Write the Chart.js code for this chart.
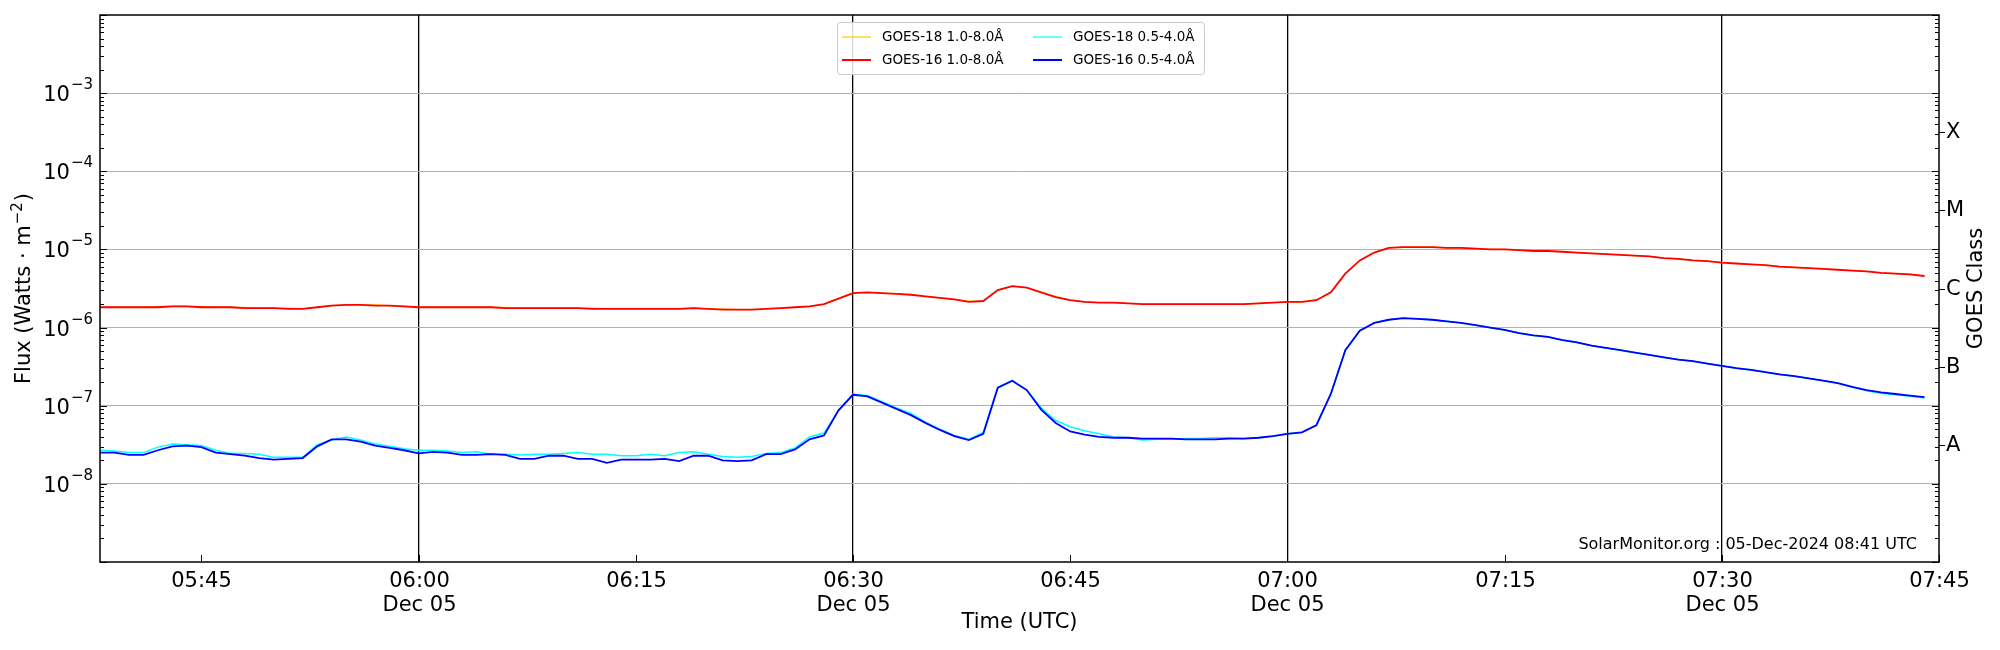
<!DOCTYPE html>
<html><head><meta charset="utf-8">
<script src="https://cdn.jsdelivr.net/npm/chart.js@4/dist/chart.umd.min.js"></script>
<style>html,body{margin:0;padding:0;background:#fff}</style>
</head><body>
<canvas id="c" width="2000" height="650"></canvas>
<script>
// Time axis: one sample per minute from 05:38 to 07:44 UTC
const startTime = "05:38";
// log10 flux values (W/m^2), one per minute
const g16LongLog = [-5.74,-5.74,-5.74,-5.74,-5.74,-5.73,-5.73,-5.74,-5.74,-5.74,-5.75,-5.75,-5.75,-5.76,-5.76,-5.74,-5.72,-5.71,-5.71,-5.72,-5.72,-5.73,
-5.74,-5.74,-5.74,-5.74,-5.74,-5.74,-5.75,-5.75,-5.75,-5.75,-5.75,-5.75,-5.76,-5.76,-5.76,-5.76,-5.76,-5.76,-5.76,-5.75,-5.76,-5.77,-5.77,-5.77,-5.76,-5.75,-5.74,-5.73,-5.70,-5.63,
-5.56,-5.55,-5.56,-5.57,-5.58,-5.60,-5.62,-5.64,-5.67,-5.66,-5.52,-5.47,-5.49,-5.55,-5.61,-5.65,-5.67,-5.68,-5.68,-5.69,-5.70,-5.70,-5.70,-5.70,-5.70,-5.70,-5.70,-5.70,-5.69,-5.68,
-5.67,-5.67,-5.65,-5.55,-5.31,-5.14,-5.04,-4.98,-4.97,-4.97,-4.97,-4.98,-4.98,-4.99,-5.00,-5.00,-5.01,-5.02,-5.02,-5.03,-5.04,-5.05,-5.06,-5.07,-5.08,-5.09,-5.11,-5.12,-5.14,-5.15,
-5.17,-5.18,-5.19,-5.20,-5.22,-5.23,-5.24,-5.25,-5.26,-5.27,-5.28,-5.30,-5.31,-5.32,-5.34];
const g18LongLog = [-5.74,-5.74,-5.74,-5.74,-5.73,-5.73,-5.73,-5.73,-5.74,-5.74,-5.74,-5.75,-5.75,-5.75,-5.76,-5.74,-5.72,-5.71,-5.71,-5.71,-5.72,-5.73,
-5.74,-5.74,-5.74,-5.74,-5.74,-5.74,-5.74,-5.75,-5.75,-5.75,-5.75,-5.75,-5.75,-5.76,-5.76,-5.76,-5.76,-5.76,-5.76,-5.75,-5.76,-5.76,-5.77,-5.77,-5.76,-5.75,-5.74,-5.73,-5.70,-5.63,
-5.56,-5.55,-5.56,-5.57,-5.58,-5.60,-5.62,-5.64,-5.66,-5.66,-5.52,-5.47,-5.49,-5.55,-5.60,-5.65,-5.67,-5.68,-5.68,-5.69,-5.70,-5.70,-5.70,-5.70,-5.70,-5.70,-5.70,-5.70,-5.69,-5.68,
-5.67,-5.67,-5.65,-5.55,-5.31,-5.14,-5.04,-4.98,-4.97,-4.97,-4.97,-4.98,-4.98,-4.99,-5.00,-5.00,-5.01,-5.02,-5.02,-5.03,-5.04,-5.05,-5.06,-5.07,-5.08,-5.09,-5.11,-5.12,-5.14,-5.15,
-5.17,-5.18,-5.19,-5.20,-5.22,-5.23,-5.24,-5.25,-5.26,-5.27,-5.28,-5.30,-5.31,-5.32,-5.34];
const g16ShortLog = [-7.60,-7.60,-7.63,-7.63,-7.57,-7.52,-7.51,-7.53,-7.60,-7.62,-7.64,-7.67,-7.69,-7.68,-7.67,-7.52,-7.43,-7.43,-7.46,-7.51,-7.54,-7.57,
-7.61,-7.59,-7.60,-7.63,-7.63,-7.62,-7.63,-7.68,-7.68,-7.64,-7.64,-7.68,-7.68,-7.73,-7.69,-7.69,-7.69,-7.68,-7.71,-7.64,-7.64,-7.70,-7.71,-7.70,-7.62,-7.62,-7.56,-7.43,-7.38,-7.06,
-6.86,-6.88,-6.96,-7.04,-7.12,-7.22,-7.31,-7.39,-7.44,-7.36,-6.77,-6.68,-6.80,-7.05,-7.22,-7.33,-7.37,-7.40,-7.41,-7.41,-7.42,-7.42,-7.42,-7.43,-7.43,-7.43,-7.42,-7.42,-7.41,-7.39,
-7.36,-7.34,-7.25,-6.85,-6.29,-6.04,-5.94,-5.90,-5.88,-5.89,-5.90,-5.92,-5.94,-5.97,-6.00,-6.03,-6.07,-6.10,-6.12,-6.16,-6.19,-6.23,-6.26,-6.29,-6.32,-6.35,-6.38,-6.41,-6.43,-6.46,
-6.49,-6.52,-6.54,-6.57,-6.60,-6.62,-6.65,-6.68,-6.71,-6.76,-6.80,-6.83,-6.85,-6.87,-6.89];
const g18ShortLog = [-7.57,-7.58,-7.60,-7.60,-7.53,-7.49,-7.50,-7.51,-7.57,-7.61,-7.61,-7.62,-7.66,-7.66,-7.66,-7.50,-7.44,-7.40,-7.44,-7.49,-7.52,-7.55,
-7.57,-7.57,-7.58,-7.60,-7.59,-7.62,-7.62,-7.63,-7.62,-7.62,-7.61,-7.60,-7.62,-7.62,-7.64,-7.64,-7.62,-7.64,-7.60,-7.59,-7.62,-7.65,-7.66,-7.65,-7.61,-7.60,-7.54,-7.40,-7.35,-7.06,
-6.85,-6.87,-6.95,-7.03,-7.10,-7.21,-7.30,-7.38,-7.43,-7.34,-6.77,-6.68,-6.80,-7.03,-7.19,-7.27,-7.32,-7.36,-7.40,-7.41,-7.44,-7.43,-7.43,-7.42,-7.42,-7.41,-7.41,-7.42,-7.41,-7.39,
-7.36,-7.34,-7.25,-6.85,-6.29,-6.04,-5.94,-5.90,-5.88,-5.89,-5.90,-5.92,-5.94,-5.97,-6.00,-6.03,-6.07,-6.10,-6.12,-6.16,-6.19,-6.23,-6.26,-6.29,-6.32,-6.35,-6.38,-6.41,-6.43,-6.46,
-6.49,-6.52,-6.54,-6.57,-6.60,-6.62,-6.65,-6.68,-6.71,-6.76,-6.81,-6.84,-6.86,-6.88,-6.90];
const xTickLabels = ["05:45","06:00","06:15","06:30","06:45","07:00","07:15","07:30","07:45"];
const xTickDates  = ["","Dec 05","","Dec 05","","Dec 05","","Dec 05",""];
const yDecades = [-8,-7,-6,-5,-4,-3];
const classLabels = ["A","B","C","M","X"];
const classLog = [-7.5,-6.5,-5.5,-4.5,-3.5];
const legendNames = ["GOES-18 1.0-8.0Å","GOES-16 1.0-8.0Å","GOES-18 0.5-4.0Å","GOES-16 0.5-4.0Å"];
const xMinLabel = "05:38", xMaxLabel = "07:45";

const toMin = s => { const [h,m] = s.split(":").map(Number); return h*60+m; };
const t0 = toMin(startTime);
const pts = arr => arr.map((v,i) => ({x: t0+i, y: Math.pow(10, v)}));

const FONT = "'DejaVu Sans'";
const FS = 21;
const decor = {
  id:'decor',
  afterDraw(chart){
    const ctx = chart.ctx, a = chart.chartArea, xs = chart.scales.x, ys = chart.scales.y;
    ctx.save();
    ctx.strokeStyle='#000'; ctx.lineWidth=1.5;
    ctx.strokeRect(a.left, a.top, a.right-a.left, a.bottom-a.top);
    ctx.lineWidth=1;
    for(let d=-9; d<=-2; d++){
      for(let k=1;k<=9;k++){
        const v = k*Math.pow(10,d); if(v<1e-9*0.999||v>1e-2*1.001) continue;
        const py = Math.round(ys.getPixelForValue(v))+0.5; const len = k===1?7:4;
        ctx.beginPath(); ctx.moveTo(a.left,py); ctx.lineTo(a.left+len,py);
        ctx.moveTo(a.right,py); ctx.lineTo(a.right-len,py); ctx.stroke();
      }
    }
    ctx.fillStyle='#000'; ctx.textBaseline='alphabetic';
    yDecades.forEach(d=>{
      const py = ys.getPixelForValue(Math.pow(10,d));
      ctx.textAlign='left';
      const sup = '\u2212'+Math.abs(d);
      ctx.font = `15px ${FONT}`; const ws = ctx.measureText(sup).width;
      ctx.font = `${FS}px ${FONT}`; const wb = ctx.measureText('10').width;
      const x0 = a.left - 8 - ws - wb;
      ctx.fillText('10', x0, py+8);
      ctx.font = `15px ${FONT}`; ctx.fillText(sup, x0+wb+1, py-4);
    });
    ctx.font = `${FS}px ${FONT}`; ctx.textAlign='left'; ctx.textBaseline='middle';
    classLabels.forEach((c,i)=>{
      const py = Math.round(ys.getPixelForValue(Math.pow(10,classLog[i])))+0.5;
      ctx.beginPath(); ctx.moveTo(a.right,py); ctx.lineTo(a.right+6,py); ctx.stroke();
      ctx.fillText(c, a.right+7, py);
    });
    ctx.textAlign='center'; ctx.textBaseline='top'; ctx.font = `${FS}px ${FONT}`;
    xTickLabels.forEach((l,i)=>{
      const px = Math.round(xs.getPixelForValue(toMin(l)))+0.5;
      ctx.beginPath(); ctx.moveTo(px,a.bottom); ctx.lineTo(px,a.bottom-7); ctx.stroke();
      ctx.fillText(l, px, a.bottom+9);
      if(xTickDates[i]) ctx.fillText(xTickDates[i], px, a.bottom+33);
    });
    ctx.font = `${FS}px ${FONT}`; ctx.fillText('Time (UTC)', (a.left+a.right)/2, 612);
    ctx.save(); ctx.translate(25,(a.top+a.bottom)/2); ctx.rotate(-Math.PI/2);
    ctx.textBaseline='middle';
    ctx.font = `${FS}px ${FONT}`;
    const t1='Flux (Watts \u00b7 m', t2='\u22122', t3=')';
    const w1=ctx.measureText(t1).width; ctx.font=`15px ${FONT}`; const w2=ctx.measureText(t2).width;
    ctx.font=`${FS}px ${FONT}`; const w3=ctx.measureText(t3).width; const tot=w1+w2+w3+2;
    ctx.textAlign='left'; ctx.fillText(t1,-tot/2,0);
    ctx.font=`15px ${FONT}`; ctx.fillText(t2,-tot/2+w1+1,-7);
    ctx.font=`${FS}px ${FONT}`; ctx.fillText(t3,-tot/2+w1+w2+2,0);
    ctx.restore();
    ctx.save(); ctx.translate(1977,(a.top+a.bottom)/2); ctx.rotate(-Math.PI/2);
    ctx.textAlign='center'; ctx.textBaseline='middle'; ctx.font=`${FS}px ${FONT}`;
    ctx.fillText('GOES Class',0,0); ctx.restore();
    ctx.font = `16px ${FONT}`; ctx.textAlign='right'; ctx.textBaseline='alphabetic';
    ctx.fillText('SolarMonitor.org : 05-Dec-2024 08:41 UTC', 1917, 549);
    ctx.fillStyle='rgba(255,255,255,0.85)'; ctx.strokeStyle='#cccccc'; ctx.lineWidth=1;
    ctx.beginPath(); ctx.roundRect(837.5,22.5,367,52,3); ctx.fill(); ctx.stroke();
    const cols=['#ffcc00','#ff0000','#00ffff','#0000ff'];
    const lx=[842,842,1033,1033], ly=[37,60,37,60];
    ctx.font=`13.5px ${FONT}`; ctx.textAlign='left'; ctx.textBaseline='middle'; ctx.fillStyle='#000';
    legendNames.forEach((n,i)=>{
      ctx.strokeStyle=cols[i]; ctx.lineWidth=(i%2?2:1.2);
      ctx.beginPath(); ctx.moveTo(lx[i],ly[i]); ctx.lineTo(lx[i]+29,ly[i]); ctx.stroke();
      ctx.fillText(n, lx[i]+40, ly[i]);
    });
    ctx.restore();
  }
};

new Chart(document.getElementById('c'), {
  type:'line',
  data:{ datasets:[
    {label:legendNames[3], data:pts(g16ShortLog), borderColor:'#0000ff', borderWidth:1.8, order:0},
    {label:legendNames[1], data:pts(g16LongLog), borderColor:'#ff0000', borderWidth:1.8, order:1},
    {label:legendNames[2], data:pts(g18ShortLog), borderColor:'#00ffff', borderWidth:1.5, order:2},
    {label:legendNames[0], data:pts(g18LongLog), borderColor:'#ffcc00', borderWidth:1.2, order:3},
  ]},
  options:{
    responsive:false, animation:false, devicePixelRatio:1,
    elements:{point:{radius:0}, line:{tension:0}},
    layout:{padding:{top:15, right:61, left:0, bottom:0}},
    plugins:{legend:{display:false}, tooltip:{enabled:false}},
    scales:{
      x:{type:'linear', min:toMin(xMinLabel), max:toMin(xMaxLabel),
        afterBuildTicks:s=>{ s.ticks = xTickLabels.map(l=>({value:toMin(l)})); },
        afterFit:s=>{ s.height=88; },
        ticks:{display:false},
        border:{display:false},
        grid:{drawTicks:false, lineWidth:1.3,
          color:c=>{ const l=xTickLabels[c.index]; return (l && xTickDates[c.index]) ? '#000' : 'rgba(0,0,0,0)'; }}
      },
      y:{type:'logarithmic', min:1e-9, max:1e-2,
        afterBuildTicks:s=>{ s.ticks = yDecades.map(d=>({value:Math.pow(10,d)})); },
        afterFit:s=>{ s.width=100; },
        ticks:{display:false},
        border:{display:false},
        grid:{drawTicks:false, color:'#b0b0b0', lineWidth:1}
      }
    }
  },
  plugins:[decor]
});
</script>
</body></html>
